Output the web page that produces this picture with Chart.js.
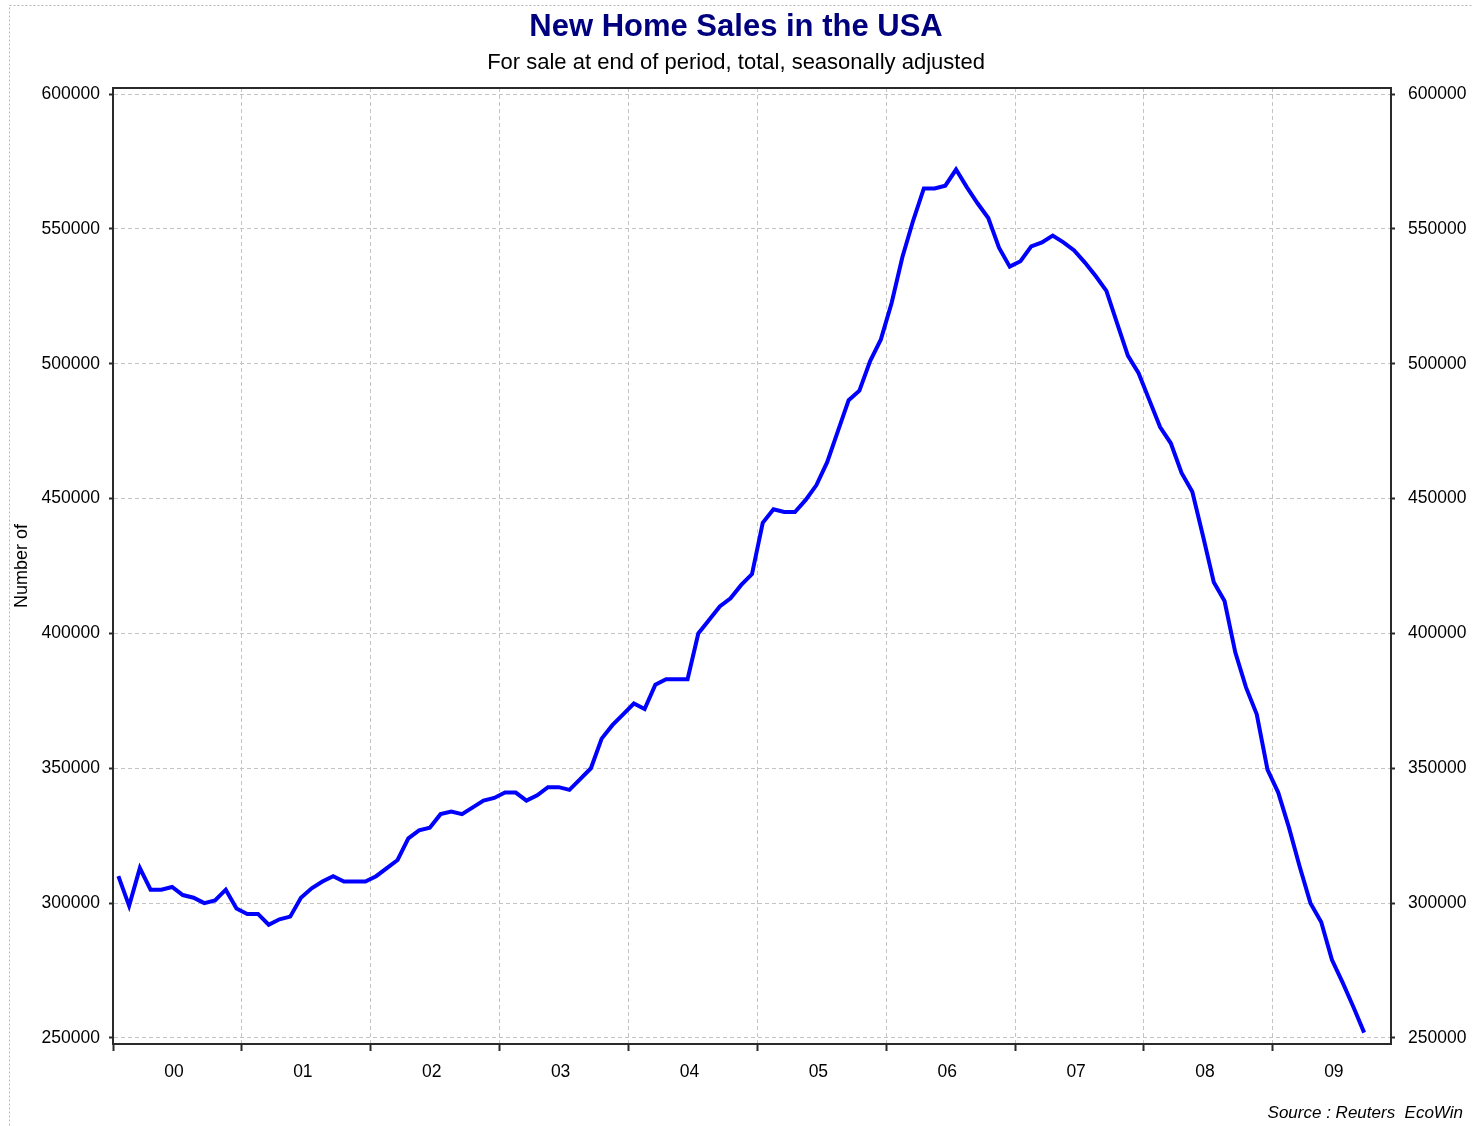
<!DOCTYPE html>
<html>
<head>
<meta charset="utf-8">
<script src="https://cdn.jsdelivr.net/npm/chart.js@4/dist/chart.umd.min.js"></script>
<style>
  html, body { margin: 0; padding: 0; background: #fff; }
  #wrap { width: 1472px; height: 1126px; }
</style>
</head>
<body>
<div id="wrap"><canvas id="sales" width="1472" height="1126"></canvas></div>
<script>
// monthly, Jan 2000 .. Sep 2009
const sales = [
    310000, 299000, 313000, 305000, 305000, 306000, 303000, 302000, 300000, 301000, 305000, 298000,
    296000, 296000, 292000, 294000, 295000, 302000, 305500, 308000, 310000, 308000, 308000, 308000,
    310000, 313000, 316000, 324000, 327000, 328000, 333000, 334000, 333000, 335500, 338000, 339000,
    341000, 341000, 338000, 340000, 343000, 343000, 342000, 346000, 350000, 361000, 366000, 370000,
    374000, 372000, 381000, 383000, 383000, 383000, 400000, 405000, 410000, 413000, 418000, 422000,
    441000, 446000, 445000, 445000, 449500, 455000, 463500, 475000, 486500, 490000, 501000, 509000,
    522500, 539500, 553000, 565000, 565000, 566000, 572000, 565500, 559500, 554000, 543000, 536000,
    538000, 543500, 545000, 547500, 545000, 542000, 537500, 532500, 527000, 515000, 503000, 496500,
    486500, 476500, 470500, 459500, 452500, 436000, 419000, 412000, 393000, 380000, 370000, 349500,
    341000, 328000, 313500, 300000, 293000, 279000, 270500, 261500, 252000
];
const yearLabels = ['00', '01', '02', '03', '04', '05', '06', '07', '08', '09'];
const yTicks = [250000, 300000, 350000, 400000, 450000, 500000, 550000, 600000];

const tickFont = { family: 'Liberation Sans', size: 17.5 };
const gridGray = '#c4c4c4';
const axisBlack = '#2a2a2a';

// frame on top of the plot, outer dotted border and source note
const frame = {
    id: 'frame',
    beforeDraw(chart) {
        const ctx = chart.ctx;
        ctx.save();
        ctx.fillStyle = '#fff';
        ctx.fillRect(0, 0, chart.width, chart.height);
        ctx.strokeStyle = '#b8b8b8';
        ctx.lineWidth = 1;
        ctx.setLineDash([2, 2]);
        ctx.strokeRect(9.5, 5.5, chart.width + 20, chart.height + 20);
        ctx.restore();
    },
    afterDraw(chart) {
        const ctx = chart.ctx;
        const a = chart.chartArea;
        ctx.save();
        ctx.strokeStyle = axisBlack;
        ctx.lineWidth = 2;
        ctx.beginPath();
        ctx.moveTo(a.left, a.top);
        ctx.lineTo(a.right, a.top);
        ctx.stroke();
        ctx.fillStyle = '#000';
        ctx.font = 'italic 17px "Liberation Sans"';
        ctx.textAlign = 'right';
        ctx.textBaseline = 'middle';
        ctx.fillText('Source : Reuters  EcoWin', 1463, 1113);
        ctx.restore();
    }
};

const yRange = { min: 247775, max: 602225 };

new Chart(document.getElementById('sales'), {
    type: 'line',
    data: {
        datasets: [{
            label: 'New home sales',
            data: sales.map((v, i) => ({ x: i, y: v })),
            borderColor: '#0000ff',
            borderWidth: 4,
            pointRadius: 0,
            tension: 0,
            yAxisID: 'y'
        }]
    },
    options: {
        responsive: false,
        animation: false,
        devicePixelRatio: 1,
        layout: { padding: { left: 0, right: 0, top: 0, bottom: 44 } },
        plugins: {
            legend: { display: false },
            tooltip: { enabled: false },
            title: {
                display: true,
                text: 'New Home Sales in the USA',
                color: '#00007f',
                font: { family: 'Liberation Sans', size: 31, weight: 'bold' },
                padding: { top: 9, bottom: 0 }
            },
            subtitle: {
                display: true,
                text: 'For sale at end of period, total, seasonally adjusted',
                color: '#000',
                font: { family: 'Liberation Sans', size: 22 },
                padding: { top: 4, bottom: 11.4 }
            }
        },
        scales: {
            x: {
                type: 'linear',
                min: -0.5,
                max: 118.5,
                afterBuildTicks: scale => {
                    scale.ticks = yearLabels.map((_, k) => ({ value: k * 12 - 0.5 }));
                },
                afterFit: scale => { scale.height = 38; },
                ticks: {
                    autoSkip: false,
                    maxRotation: 0,
                    font: tickFont,
                    color: '#000',
                    padding: 11,
                    labelOffset: 61,
                    callback: (value, index) => yearLabels[index]
                },
                grid: {
                    color: ctx => ctx.index === 0 ? 'rgba(0,0,0,0)' : gridGray,
                    lineWidth: 1,
                    tickLength: 7,
                    tickColor: axisBlack,
                    tickWidth: 2
                },
                border: { color: axisBlack, width: 2, dash: [4, 3] }
            },
            y: {
                position: 'left',
                min: yRange.min,
                max: yRange.max,
                afterBuildTicks: scale => {
                    scale.ticks = yTicks.map(v => ({ value: v }));
                },
                afterFit: scale => { scale.width = 113; },
                ticks: { font: tickFont, color: '#000', padding: 9, callback: v => String(v) },
                grid: {
                    color: gridGray,
                    lineWidth: 1,
                    tickLength: 4,
                    tickColor: axisBlack,
                    tickWidth: 2
                },
                border: { color: axisBlack, width: 2, dash: [4, 3] },
                title: {
                    display: true,
                    text: 'Number of',
                    color: '#000',
                    font: { family: 'Liberation Sans', size: 18 },
                    padding: { top: 11, bottom: 0 }
                }
            },
            y2: {
                position: 'right',
                min: yRange.min,
                max: yRange.max,
                afterBuildTicks: scale => {
                    scale.ticks = yTicks.map(v => ({ value: v }));
                },
                afterFit: scale => { scale.width = 81; },
                ticks: { font: tickFont, color: '#000', padding: 13, callback: v => String(v) },
                grid: {
                    drawOnChartArea: false,
                    tickLength: 4,
                    tickColor: axisBlack,
                    tickWidth: 2
                },
                border: { color: axisBlack, width: 2 }
            }
        }
    },
    plugins: [frame]
});
</script>
</body>
</html>
